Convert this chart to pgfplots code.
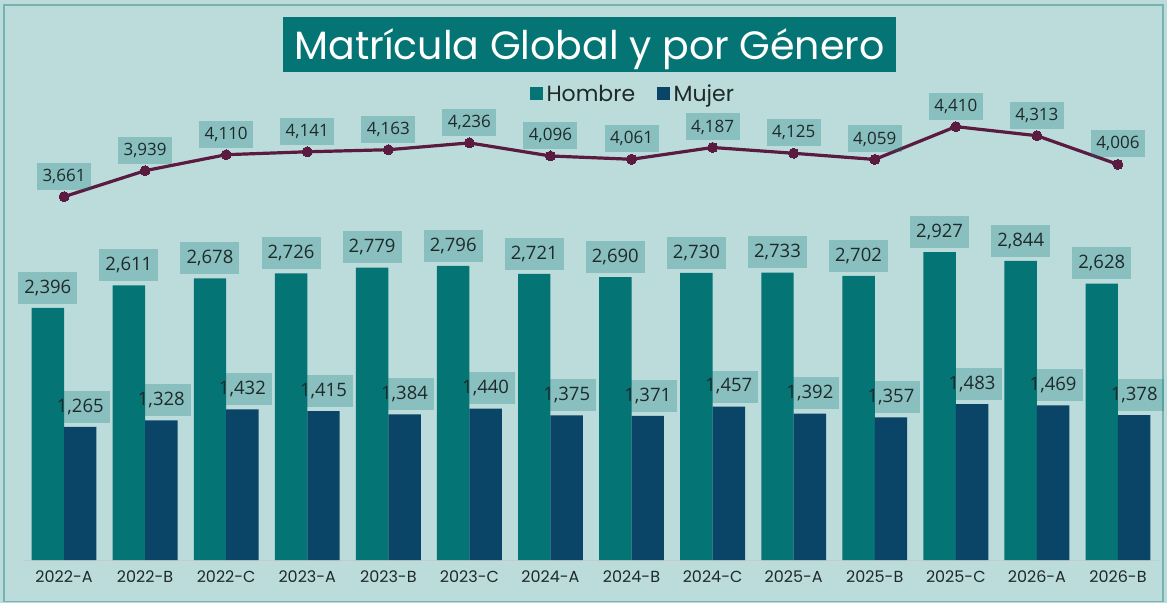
\documentclass[border=0pt]{standalone}
\usepackage{fontspec}
\usepackage{pgfplots}
\usepackage{pgfplotstable}
\pgfplotsset{compat=1.18}
\setmainfont{Open Sans}
\newfontfamily\adv{Poppins}
\definecolor{bg}{HTML}{BCDCDC}
\definecolor{teal1}{HTML}{057474}
\definecolor{navy1}{HTML}{0A4467}
\definecolor{wine}{HTML}{5B1A3F}
\definecolor{txt}{HTML}{1E2A2A}
\definecolor{base}{HTML}{C4CCCC}

\pgfplotstableread{
x h m t
0 2396 1265 3661
1 2611 1328 3939
2 2678 1432 4110
3 2726 1415 4141
4 2779 1384 4163
5 2796 1440 4236
6 2721 1375 4096
7 2690 1371 4061
8 2730 1457 4187
9 2733 1392 4125
10 2702 1357 4059
11 2927 1483 4410
12 2844 1469 4313
13 2628 1378 4006
}\data

\begin{document}
\begin{tikzpicture}[x=1pt,y=1pt]
\useasboundingbox (0,0) rectangle (1167,603);
\fill[bg] (0,0) rectangle (1167,603);
\draw[teal1!55, line width=1.2pt] (4,1.5) rectangle (1163,598);
\fill[teal1] (283,531) rectangle (896,586);
\node[text=white, inner sep=0pt, anchor=base,
      font=\adv\fontsize{39.5}{39.5}\selectfont] at (589.5,543) {Matrícula Global y por Género};

\begin{axis}[
  at={(23.5pt,43pt)}, anchor=south west,
  scale only axis, width=1135pt, height=450pt,
  xmin=-0.5, xmax=13.5, ymin=0, ymax=4278,
  ybar=0pt, bar width=0.4,
  axis y line=none,
  axis x line*=bottom,
  x axis line style={draw=base, line width=1pt, -},
  xtick=data,
  xticklabels={2022-A,2022-B,2022-C,2023-A,2023-B,2023-C,2024-A,2024-B,2024-C,2025-A,2025-B,2025-C,2026-A,2026-B},
  major tick length=0pt,
  xticklabel style={font=\adv\fontsize{16}{16}\selectfont, text=txt, yshift=-7pt},
  clip=false,
  nodes near coords={\pgfmathprintnumber[fixed,precision=0,1000 sep={,},assume math mode=true]{\pgfplotspointmeta}},
  every node near coord/.append style={font=\fontsize{18.5}{18.5}\selectfont, text=txt,
     fill=teal1, fill opacity=0.27, text opacity=1, minimum width=59pt, minimum height=32pt,
     inner sep=0pt, anchor=south, yshift=4pt},
  legend style={draw=none, fill=none, legend columns=2,
     font=\adv\fontsize{22}{22}\selectfont, text=txt,
     at={(rel axis cs:0.537,1.036)}, anchor=center,
     /tikz/every odd column/.append style={column sep=2pt},
     /tikz/every even column/.append style={column sep=20pt}},
  legend image code/.code={\fill[#1] (0pt,-6pt) rectangle (12.5pt,6.5pt);},
]
\addplot[fill=teal1, draw=none, bar shift=-0.2] table[x=x,y=h]{\data};
\addlegendentry{Hombre}
\addplot[fill=navy1, draw=none, bar shift=0.2] table[x=x,y=m]{\data};
\addlegendentry{Mujer}
\end{axis}

\begin{axis}[
  at={(23.5pt,43pt)}, anchor=south west,
  scale only axis, width=1135pt, height=450pt,
  xmin=-0.5, xmax=13.5, ymin=-225, ymax=4588,
  hide axis, clip=false,
  nodes near coords={\pgfmathprintnumber[fixed,precision=0,1000 sep={,},assume math mode=true]{\pgfplotspointmeta}},
  every node near coord/.append style={font=\fontsize{17}{17}\selectfont, text=txt,
     fill=teal1, fill opacity=0.27, text opacity=1, minimum width=54pt, minimum height=27pt,
     inner sep=0pt, anchor=south, yshift=7pt},
]
\addplot[wine, line width=3.2pt, mark=*, mark size=5pt, mark options={fill=wine, draw=wine, line width=0pt}] table[x=x,y=t]{\data};
\end{axis}
\end{tikzpicture}
\end{document}
